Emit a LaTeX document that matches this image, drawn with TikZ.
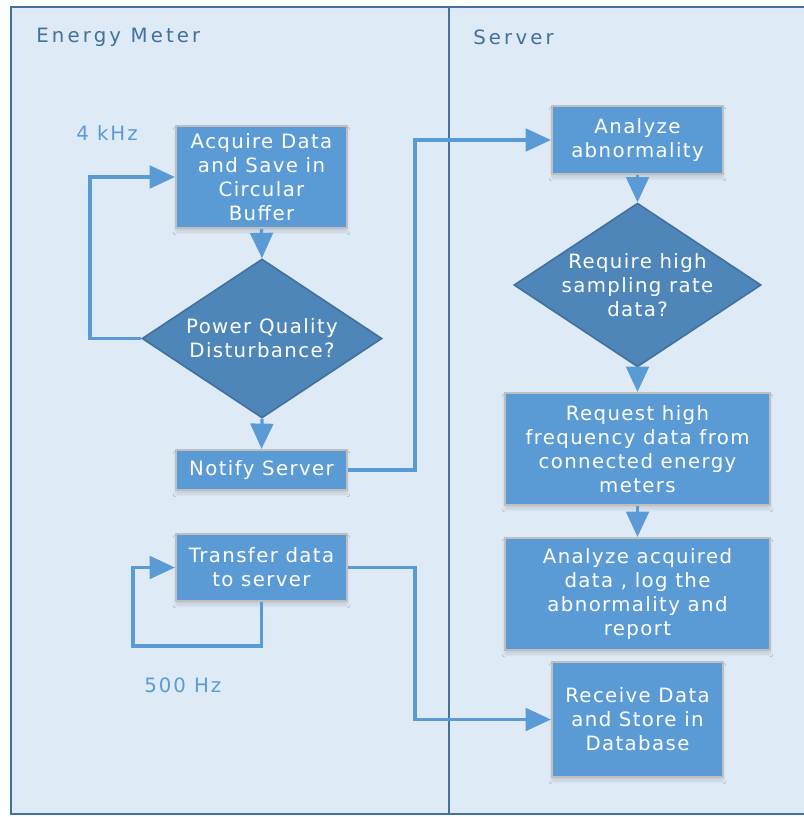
\documentclass[tikz,border=0pt]{standalone}
\usepackage{fontspec}
\setmainfont{DejaVu Sans}
\usetikzlibrary{shapes.geometric,arrows.meta,shadows.blur}
\definecolor{bgblue}{HTML}{DEEAF6}
\definecolor{frameblue}{HTML}{41719C}
\definecolor{boxblue}{HTML}{5B9BD5}
\definecolor{diablue}{HTML}{4E86B9}
\definecolor{boxgrey}{HTML}{BFBFBF}
\newfontfamily\boxfont[LetterSpace=7]{DejaVu Sans}
\newfontfamily\titlefont[LetterSpace=16]{DejaVu Sans}
\newfontfamily\ratefont[LetterSpace=10]{DejaVu Sans}
\begin{document}
\begin{tikzpicture}[x=0.75pt,y=-0.75pt,
  procbox/.style={draw=boxgrey,line width=1.6pt,fill=boxblue,text=white,
    align=center,inner sep=0pt,font=\boxfont\fontsize{14.8}{18}\selectfont,
    blur shadow={shadow blur steps=6,shadow xshift=0pt,shadow yshift=-3pt,shadow opacity=12}},
  decbox/.style={diamond,aspect=1.51,draw=frameblue,line width=1.2pt,fill=diablue,text=white,
    align=center,inner sep=0pt,font=\boxfont\fontsize{14.8}{18}\selectfont},
  flow/.style={draw=boxblue,line width=2.4pt,line join=miter,
    -{Triangle[length=19pt,width=17pt]}},
  lane/.style={font=\titlefont\fontsize{14.8}{18}\selectfont,text=frameblue,anchor=west,inner sep=0pt},
  rate/.style={font=\ratefont\fontsize{14.8}{18}\selectfont,text=boxblue,anchor=west,inner sep=0pt}
]
\useasboundingbox (0,0) rectangle (803,817);
\fill[white] (0,0) rectangle (803,817);
\draw[frameblue,line width=2.2pt,fill=bgblue] (11,7) rectangle (810,814);
\draw[frameblue,line width=2.2pt] (449,7) -- (449,814);

\node[lane] (t1) at (36,37) {Energy Meter};
\node[lane] (t2) at (473,37) {Server};
\node[rate] (r1) at (76,133) {4 kHz};
\node[rate] (r2) at (144,685) {500 Hz};

\node[procbox,minimum width=171*0.75pt,minimum height=102*0.75pt] (acq) at (261.5,177) {Acquire Data\\and Save in\\Circular\\Buffer};
\node[decbox,minimum width=240*0.75pt,minimum height=159*0.75pt] (d1) at (262,338.5) {Power Quality\\Disturbance?};
\node[procbox,minimum width=171*0.75pt,minimum height=40*0.75pt] (notify) at (261.5,470) {Notify Server};
\node[procbox,minimum width=171*0.75pt,minimum height=67*0.75pt] (tr) at (261.5,567.5) {Transfer data\\to server};

\node[procbox,minimum width=171*0.75pt,minimum height=68*0.75pt] (an) at (637.5,140) {Analyze\\abnormality};
\node[decbox,minimum width=241*0.75pt,minimum height=160*0.75pt] (d2) at (637.5,285) {Require high\\sampling rate\\data?};
\node[procbox,minimum width=265*0.75pt,minimum height=112*0.75pt] (req) at (637.5,449) {Request high\\frequency data from\\connected energy\\meters};
\node[procbox,minimum width=265*0.75pt,minimum height=112*0.75pt] (aa) at (637.5,594) {Analyze acquired\\data , log the\\abnormality and\\report};
\node[procbox,minimum width=171*0.75pt,minimum height=115*0.75pt] (rec) at (637.5,719.5) {Receive Data\\and Store in\\Database};

\coordinate (c1) at (90,338.5);
\coordinate (j1) at (415,470);
\coordinate (c2) at (133,646);
\coordinate (j2) at (415,567.5);

\draw[flow] (acq.south) -- (d1.north);
\draw[flow] (d1.west) -- (c1) |- (acq.west);
\draw[flow] (d1.south) -- (notify.north);
\draw[flow] (notify.east) -- (j1) |- (an.west);
\draw[flow] (tr.south) |- (c2) |- (tr.west);
\draw[flow] (tr.east) -- (j2) |- (rec.west);
\draw[flow] (an.south) -- (d2.north);
\draw[flow] (d2.south) -- (req.north);
\draw[flow] (req.south) -- (aa.north);
\end{tikzpicture}
\end{document}
